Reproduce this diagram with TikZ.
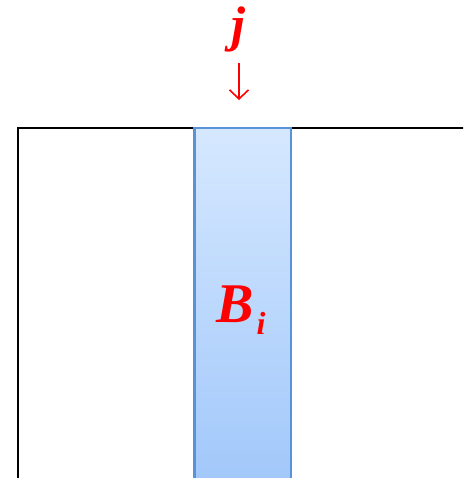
\documentclass[tikz,border=0pt]{standalone}
\definecolor{labelred}{RGB}{255, 0, 0}
\definecolor{coltop}{RGB}{214, 232, 255}
\definecolor{colbottom}{RGB}{160, 199, 250}
\definecolor{coledge}{RGB}{88, 146, 216}
\usepackage{fontspec}
\setmainfont{Liberation Serif}
\usepackage{tikz}
\usetikzlibrary{arrows.meta, positioning, calc}

\begin{document}
\begin{tikzpicture}[x=1pt, y=-1pt]
                \useasboundingbox (0,0) rectangle (463,478);
                \clip (0,0) rectangle (463,478);

                % Matrix (runs off the page to the right and below)
                \draw[line width=2pt] (18,128) rectangle (520,540);

                % Column block
                \draw[coledge, line width=2.2pt, top color=coltop, bottom color=colbottom]
                    (194.5,128) rectangle (291,490);
                \node[text=labelred, inner sep=0pt, anchor=base west, font=\fontsize{56}{56}\selectfont\bfseries\itshape] (blk) at (216,322) {B\hspace{3pt}\raisebox{-12pt}{\fontsize{32}{32}\selectfont i}};

                % Column index and arrow
                \node[text=labelred, inner sep=0pt, anchor=base, font=\fontsize{50}{50}\selectfont\bfseries\itshape] (idx) at (238,42) {j};
                \coordinate (arrtop) at (239,63);
                \coordinate (arrend) at (239,100);
                \draw[labelred, line width=1.6pt, -{Straight Barb[length=9pt, width=19pt]}] (arrtop) -- (arrend);
            \end{tikzpicture}
\end{document}
